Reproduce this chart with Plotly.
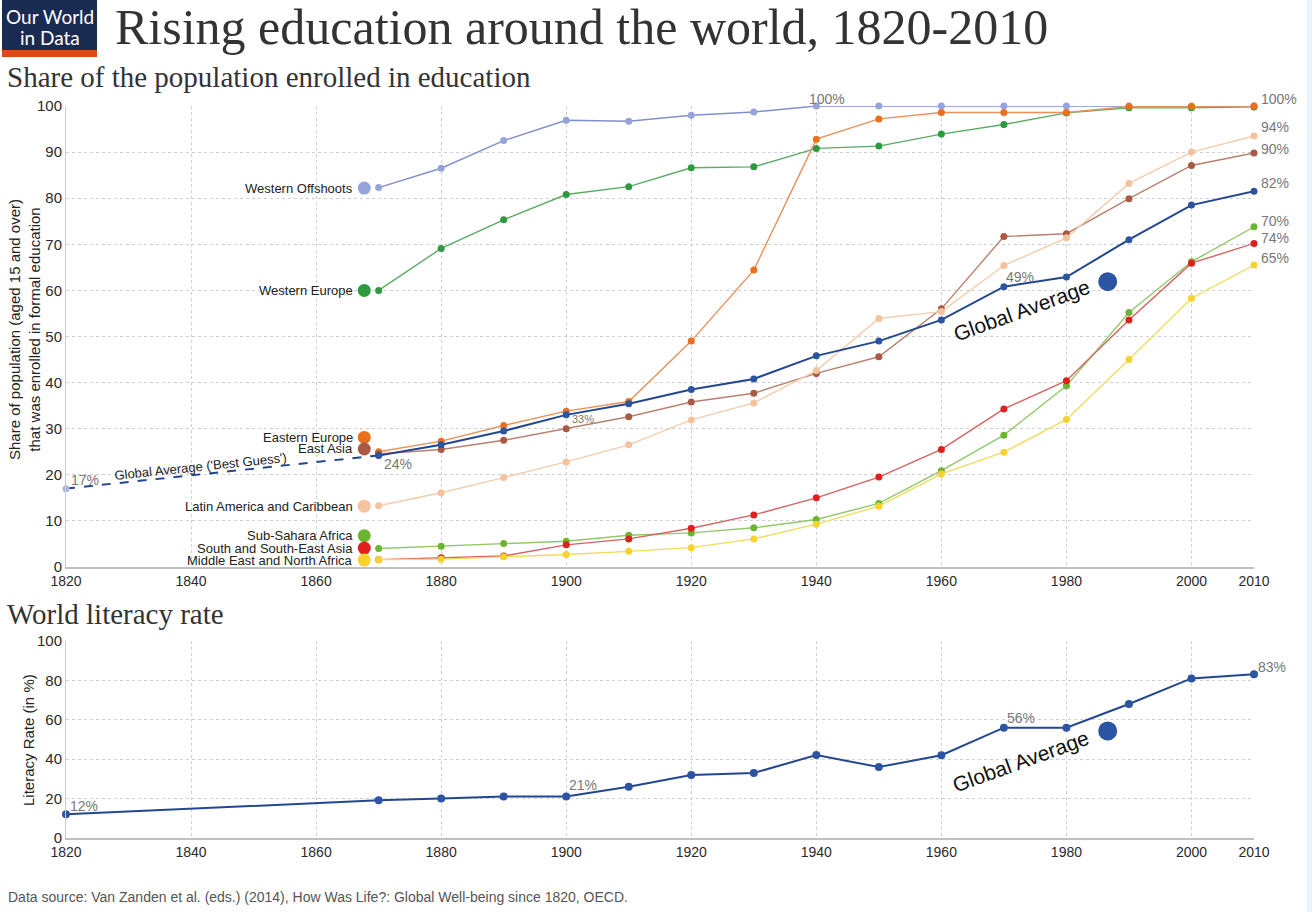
import plotly.graph_objects as go

# ---------------- data ----------------
years = [1870, 1880, 1890, 1900, 1910, 1920, 1930, 1940, 1950, 1960, 1970, 1980, 1990, 2000, 2010]

western_offshoots = [82.3, 86.5, 92.5, 96.9, 96.7, 98.0, 98.7, 100, 100, 100, 100, 100, 100, 100, 100]
western_europe = [60.0, 69.1, 75.3, 80.8, 82.5, 86.6, 86.8, 90.8, 91.3, 93.9, 96.0, 98.5, 99.6, 99.6, 99.8]
eastern_europe = [25.0, 27.3, 30.7, 33.8, 35.9, 49.0, 64.4, 92.8, 97.2, 98.6, 98.6, 98.6, 99.9, 99.9, 100]
east_asia = [24.5, 25.5, 27.5, 30.0, 32.6, 35.8, 37.7, 42.0, 45.6, 56.0, 71.7, 72.3, 79.9, 87.1, 89.8]
latin_america = [13.3, 16.1, 19.4, 22.8, 26.5, 31.9, 35.6, 42.6, 53.9, 55.4, 65.4, 71.4, 83.2, 90.0, 93.5]
sub_saharan_africa = [4.0, 4.5, 5.1, 5.6, 6.9, 7.4, 8.5, 10.3, 13.8, 20.9, 28.6, 39.3, 55.2, 66.2, 73.8]
south_se_asia = [1.6, 2.0, 2.4, 4.8, 6.1, 8.4, 11.3, 15.0, 19.5, 25.5, 34.3, 40.4, 53.6, 65.9, 70.2]
mena = [1.6, 1.7, 2.2, 2.7, 3.4, 4.2, 6.1, 9.3, 13.2, 20.2, 24.9, 32.0, 45.0, 58.3, 65.5]
global_average = [24.2, 26.5, 29.5, 33.0, 35.4, 38.5, 40.8, 45.8, 49.0, 53.6, 60.8, 62.9, 71.0, 78.5, 81.5]

best_guess_years = [1820, 1870]
best_guess_vals = [17, 24.2]

region_names = ["Western Offshoots", "Western Europe", "Eastern Europe", "East Asia",
                "Latin America and Caribbean", "Sub-Sahara Africa",
                "South and South-East Asia", "Middle East and North Africa"]
region_values = [western_offshoots, western_europe, eastern_europe, east_asia,
                 latin_america, sub_saharan_africa, south_se_asia, mena]
# y position of each name label (with its dot) at the left of the lines
label_year = 1867.7
label_vals = [82.2, 60.0, 28.1, 25.6, 13.2, 6.8, 4.1, 1.5]

lit_years = [1820, 1870, 1880, 1890, 1900, 1910, 1920, 1930, 1940, 1950, 1960, 1970, 1980, 1990, 2000, 2010]
lit_vals = [12, 19.1, 20.1, 21.1, 21.1, 26.0, 32.0, 33.0, 42.1, 36.0, 42.0, 56.0, 56.0, 68.0, 81.0, 83.1]

ga_dot_year = [1986.6]
ga_dot_top = [61.9]
ga_dot_bottom = [54.3]

x_ticks = [1820, 1840, 1860, 1880, 1900, 1920, 1940, 1960, 1980, 2000]
x_extra_tick = [2010]
y_ticks_top = [0, 10, 20, 30, 40, 50, 60, 70, 80, 90, 100]
y_ticks_bottom = [0, 20, 40, 60, 80, 100]

# ---------------- styles ----------------
marker_colors = ["#95a3d9", "#2d9a3f", "#e8701e", "#a95a44", "#f6c29d", "#6cb532", "#e1201e", "#f8d22e"]
line_colors = ["#8090cc", "#5aab66", "#e99159", "#b6826f", "#f5cdae", "#92c86a", "#d96161", "#f2dc5c"]
GA_MARK = "#2b55a3"
GA_LINE = "#23478f"

W, H = 1312, 912
def px(x):
    return x / W
def py(y):
    return 1 - y / H

SANS = "Liberation Sans, Arial, sans-serif"
SERIF = "Liberation Serif, Times New Roman, serif"

fig = go.Figure()

# regional lines
for name, vals, mc, lc in zip(region_names, region_values, marker_colors, line_colors):
    fig.add_trace(go.Scatter(x=years, y=vals, mode="lines+markers", name=name,
                             line=dict(color=lc, width=1.4), marker=dict(color=mc, size=7),
                             cliponaxis=False, showlegend=False, xaxis="x", yaxis="y"))

# global average best guess (dashed)
fig.add_trace(go.Scatter(x=best_guess_years, y=best_guess_vals, mode="lines",
                         line=dict(color=GA_LINE, width=2, dash="dash"),
                         cliponaxis=False, showlegend=False, xaxis="x", yaxis="y"))
fig.add_trace(go.Scatter(x=best_guess_years[:1], y=best_guess_vals[:1], mode="markers",
                         marker=dict(color="#a9b6e0", size=7),
                         cliponaxis=False, showlegend=False, xaxis="x", yaxis="y"))
# global average
fig.add_trace(go.Scatter(x=years, y=global_average, mode="lines+markers",
                         line=dict(color=GA_LINE, width=2), marker=dict(color=GA_MARK, size=7),
                         cliponaxis=False, showlegend=False, xaxis="x", yaxis="y"))

# name-label dots
fig.add_trace(go.Scatter(x=[label_year] * len(label_vals), y=label_vals, mode="markers",
                         marker=dict(color=marker_colors, size=13),
                         cliponaxis=False, showlegend=False, xaxis="x", yaxis="y"))

# big global-average dots
fig.add_trace(go.Scatter(x=ga_dot_year, y=ga_dot_top, mode="markers",
                         marker=dict(color=GA_MARK, size=19), cliponaxis=False,
                         showlegend=False, xaxis="x", yaxis="y"))

# literacy
fig.add_trace(go.Scatter(x=lit_years, y=lit_vals, mode="lines+markers",
                         line=dict(color=GA_LINE, width=2), marker=dict(color=GA_MARK, size=8),
                         cliponaxis=False, showlegend=False, xaxis="x2", yaxis="y2"))
fig.add_trace(go.Scatter(x=ga_dot_year, y=ga_dot_bottom, mode="markers",
                         marker=dict(color=GA_MARK, size=19), cliponaxis=False,
                         showlegend=False, xaxis="x2", yaxis="y2"))

# invisible helpers so the extra 2010 tick axes are drawn
fig.add_trace(go.Scatter(x=x_extra_tick, y=[0], mode="markers", marker=dict(opacity=0),
                         hoverinfo="skip", showlegend=False, xaxis="x3", yaxis="y"))
fig.add_trace(go.Scatter(x=x_extra_tick, y=[0], mode="markers", marker=dict(opacity=0),
                         hoverinfo="skip", showlegend=False, xaxis="x4", yaxis="y2"))

GRID = "#d0d0d0"
tickfont = dict(family=SANS, size=14, color="#2a2a2a")
xcommon = dict(range=[1820, 2010], showgrid=True, gridcolor=GRID, griddash="dot", gridwidth=1,
               zeroline=False, showline=True, linecolor="#c0c0c0", linewidth=2,
               ticks="", tickfont=tickfont, fixedrange=True, automargin=False)
xextra = dict(range=[1820, 2010], showgrid=False, zeroline=False, showline=True,
              linecolor="rgba(0,0,0,0)", linewidth=2, ticks="", tickfont=tickfont,
              fixedrange=True, automargin=False, tickvals=x_extra_tick)
ycommon = dict(range=[0, 100], showgrid=True, gridcolor=GRID, griddash="dot", gridwidth=1,
               zeroline=False, showline=True, linecolor="#cccccc", linewidth=1,
               ticks="", tickfont=dict(family=SANS, size=15, color="#2a2a2a"),
               fixedrange=True, automargin=False)

fig.update_layout(
    width=W, height=H, autosize=False,
    margin=dict(l=0, r=0, t=0, b=0, autoexpand=False),
    paper_bgcolor="white", plot_bgcolor="white",
    xaxis=dict(domain=[px(66), px(1254)], anchor="y", tickvals=x_ticks, **xcommon),
    yaxis=dict(domain=[py(567), py(106)], anchor="x", tickvals=y_ticks_top, **ycommon),
    xaxis2=dict(domain=[px(66), px(1254)], anchor="y2", tickvals=x_ticks, **xcommon),
    yaxis2=dict(domain=[py(838), py(641)], anchor="x2", tickvals=y_ticks_bottom, **ycommon),
    xaxis3=dict(overlaying="x", anchor="y", **xextra),
    xaxis4=dict(overlaying="x2", anchor="y2", **xextra),
)

ann = []
def text(x, y, s, size, color="#333333", family=SANS, xanchor="left", angle=0):
    ann.append(dict(x=px(x), y=py(y), xref="paper", yref="paper", text=s, showarrow=False,
                    xanchor=xanchor, yanchor="middle", textangle=angle,
                    font=dict(family=family, size=size, color=color)))

# region name labels, right-aligned next to their dots
for name, v in zip(region_names, label_vals):
    ann.append(dict(x=label_year, y=v, xref="x", yref="y", text=name, showarrow=False,
                    xanchor="right", yanchor="middle", xshift=-10, borderpad=0,
                    font=dict(family=SANS, size=13, color="#222222")))

# logo + right strip
shapes = [
    dict(type="rect", xref="paper", yref="paper", x0=px(2), x1=px(97), y0=py(50), y1=py(0),
         fillcolor="#1a2b52", line=dict(width=0), layer="above"),
    dict(type="rect", xref="paper", yref="paper", x0=px(2), x1=px(97), y0=py(57), y1=py(50),
         fillcolor="#dc4a1c", line=dict(width=0), layer="above"),
    dict(type="rect", xref="paper", yref="paper", x0=px(1307), x1=1, y0=0, y1=1,
         fillcolor="#edf3fa", line=dict(width=0), layer="below"),
]
text(49.5, 16, "Our World", 19, "white", "Lato, sans-serif", "center")
text(49.5, 37, "in Data", 19, "white", "Lato, sans-serif", "center")

# titles
text(113, 27, "Rising education around the world, 1820-2010", 50, "#333333", SERIF)
text(5, 77, "Share of the population enrolled in education", 29, "#333333", SERIF)
text(5, 614, "World literacy rate", 29, "#333333", SERIF)
text(6, 897, "Data source: Van Zanden et al. (eds.) (2014), How Was Life?: Global Well-being since 1820, OECD.",
     14, "#555555")

# axis titles
text(24, 330, "Share of population (aged 15 and over)<br>that was enrolled in formal education",
     15, "#222222", SANS, "center", -90)
text(28, 740, "Literacy Rate (in %)", 15, "#222222", SANS, "center", -90)

# percentage labels
GREY = "#777777"
text(69, 480, "17%", 14, GREY)
text(382, 464, "24%", 14, GREY)
text(570, 419, "33%", 11, GREY)
text(807, 99, "100%", 14, GREY)
text(1004, 277, "49%", 14, GREY)
for yy, s in [(99, "100%"), (127, "94%"), (149, "90%"), (183, "82%"),
              (221, "70%"), (238, "74%"), (258, "65%")]:
    text(1259, yy, s, 14, GREY)
text(68, 806, "12%", 14, GREY)
text(567, 785, "21%", 14, GREY)
text(1005, 718, "56%", 14, GREY)
text(1256, 667, "83%", 14, GREY)

# rotated labels
text(200, 466, "Global Average ('Best Guess')", 13, "#222222", SANS, "center", -6)
text(1021, 310, "Global Average", 21, "#111111", SANS, "center", -20)
text(1020, 761, "Global Average", 21, "#111111", SANS, "center", -20)

fig.update_layout(annotations=ann, shapes=shapes)
fig.write_html("out.html", config={"displayModeBar": False},
               post_script="document.body.style.margin='0px';document.body.style.padding='0px';"
                           "document.body.style.overflow='hidden';")
